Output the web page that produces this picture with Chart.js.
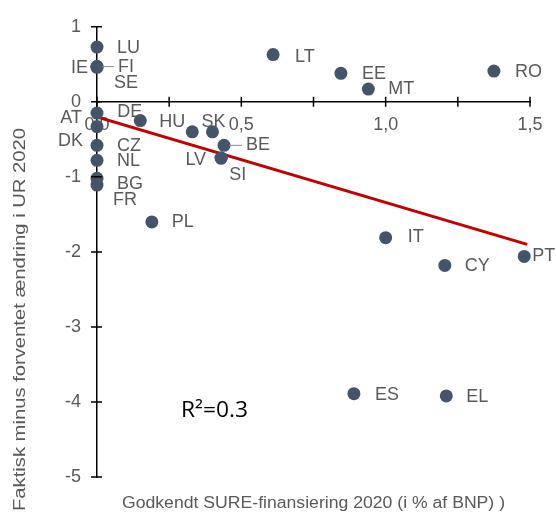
<!DOCTYPE html>
<html>
<head>
<meta charset="utf-8">
<script src="https://cdn.jsdelivr.net/npm/chart.js@4.4.1/dist/chart.umd.min.js"></script>
<style>
  html, body { margin: 0; padding: 0; background: #fff; }
  #wrap { width: 556px; height: 517px; position: relative; }
</style>
</head>
<body>
<div id="wrap"><canvas id="c"></canvas></div>
<script>
// ─── Data ────────────────────────────────────────────────────────
const countries = ['LU', 'IE', 'FI', 'SE', 'AT', 'DK', 'CZ', 'NL', 'BG', 'FR',
                   'DE', 'PL', 'HU', 'SK', 'BE', 'LV', 'SI', 'LT', 'EE', 'MT',
                   'RO', 'IT', 'CY', 'PT', 'ES', 'EL'];
// Godkendt SURE-finansiering 2020 (% af BNP)
const sure = [0, 0, 0, 0, 0, 0, 0, 0, 0, 0,
              0.15, 0.19, 0.33, 0.40, 0.44, 0.43, 0.43, 0.61, 0.845, 0.94,
              1.375, 1.0, 1.205, 1.48, 0.89, 1.21];
// Faktisk minus forventet ændring i UR 2020
const urGap = [0.73, 0.47, 0.47, 0.46, -0.15, -0.33, -0.58, -0.78, -1.02, -1.11,
               -0.25, -1.60, -0.40, -0.40, -0.58, -0.75, -0.75, 0.63, 0.38, 0.17,
               0.41, -1.81, -2.18, -2.06, -3.89, -3.92];
// trend line end points
const trendX = [0, 1.49];
const trendY = [-0.2, -1.9];

const xTicks = [0, 0.25, 0.5, 0.75, 1.0, 1.25, 1.5];
const yTicks = [1, 0, -1, -2, -3, -4, -5];

// label placement: [dx, dy, align, leader]
const labelPos = [
  [20, 1, 'left'], [-9, 1, 'right'], [21, 0, 'left', true], [17, 16, 'left'],
  [-15, 5, 'right'], [-14, 14, 'right'], [20, 1, 'left'], [20, 1, 'left'],
  [20, 6, 'left'], [16, 15, 'left'],
  [-23, -9, 'left'], [20, 0, 'left'], [-7, -10, 'right'], [-11, -10, 'left'],
  [22, 0, 'left', true], [-15, 2, 'right'], [8, 17, 'left'], [22, 2, 'left'],
  [21, 1, 'left'], [20, 0, 'left'], [21, 1, 'left'], [22, -1, 'left'],
  [20, 1, 'left'], [8, 0, 'left'], [21, 1, 'left'], [20, 1, 'left']
];

const GREY = '#595959';
const FONT = '"Liberation Sans", Arial, sans-serif';

// text stretched to a given length
function fitText(ctx, text, x, y, len) {
  const w = ctx.measureText(text).width;
  ctx.save();
  ctx.translate(x, y);
  ctx.scale(len / w, 1);
  ctx.fillText(text, 0, 0);
  ctx.restore();
}

// ─── Extra drawing: labels, crossing ticks, titles ──────────────
const decorate = {
  id: 'decorate',
  afterDraw(chart) {
    const ctx = chart.ctx;
    const xs = chart.scales.x, ys = chart.scales.y;
    const x0 = xs.getPixelForValue(0), y0 = ys.getPixelForValue(0);
    ctx.save();

    // crossing tick marks
    ctx.strokeStyle = '#000';
    ctx.lineWidth = 1.5;
    ctx.beginPath();
    yTicks.forEach(v => {
      const p = ys.getPixelForValue(v);
      ctx.moveTo(x0 - 6, p); ctx.lineTo(x0 + 5, p);
    });
    xTicks.forEach(v => {
      const p = xs.getPixelForValue(v);
      ctx.moveTo(p, y0 - 5); ctx.lineTo(p, y0 + 5);
    });
    ctx.stroke();

    // point labels
    ctx.font = '18px ' + FONT;
    ctx.fillStyle = GREY;
    ctx.textBaseline = 'middle';
    countries.forEach((c, i) => {
      const px = xs.getPixelForValue(sure[i]);
      const py = ys.getPixelForValue(urGap[i]);
      const [dx, dy, align, leader] = labelPos[i];
      ctx.textAlign = align;
      ctx.fillText(c, px + dx, py + dy);
      if (leader) {
        ctx.strokeStyle = '#8c8c8c';
        ctx.lineWidth = 1;
        ctx.beginPath();
        ctx.moveTo(px + 5, py); ctx.lineTo(px + dx - 4, py);
        ctx.stroke();
      }
    });

    // R²
    ctx.fillStyle = '#000';
    ctx.font = '21px "Open Sans", sans-serif';
    ctx.textAlign = 'left';
    fitText(ctx, 'R²=0.3', 181, 411, 67);

    // axis titles
    ctx.fillStyle = GREY;
    ctx.font = '16px ' + FONT;
    ctx.textAlign = 'left';
    fitText(ctx, 'Godkendt SURE-finansiering 2020 (i % af BNP) )', 122, 504, 383);

    ctx.translate(21, 0);
    ctx.rotate(-Math.PI / 2);
    fitText(ctx, 'Faktisk minus forventet ændring i UR 2020', -511, 0, 383);
    ctx.restore();
  }
};

// ─── Chart ───────────────────────────────────────────────────────
new Chart(document.getElementById('c'), {
  type: 'scatter',
  data: {
    datasets: [
      {
        label: 'Lande',
        data: sure.map((x, i) => ({ x, y: urGap[i] })),
        backgroundColor: '#44546a',
        borderWidth: 0,
        pointRadius: 6.5,
        pointHoverRadius: 6.5,
        clip: false
      },
      {
        type: 'line',
        label: 'Trend',
        data: trendX.map((x, i) => ({ x, y: trendY[i] })),
        borderColor: '#c00000',
        borderWidth: 3,
        pointRadius: 0,
        fill: false
      }
    ]
  },
  options: {
    responsive: true,
    maintainAspectRatio: false,
    animation: false,
    layout: { padding: { top: 16, right: 26, bottom: 40, left: 0 } },
    plugins: { legend: { display: false }, tooltip: { enabled: false } },
    scales: {
      x: {
        type: 'linear',
        position: { y: 0 },
        min: 0, max: 1.5,
        afterBuildTicks: s => { s.ticks = xTicks.map(v => ({ value: v })); },
        ticks: {
          color: GREY,
          font: { size: 18, family: FONT },
          padding: 12,
          maxRotation: 0,
          autoSkip: false,
          callback: v => (Math.abs(v * 2 - Math.round(v * 2)) < 1e-6 ? v.toFixed(1).replace('.', ',') : '')
        },
        grid: { drawOnChartArea: false, drawTicks: false },
        border: { color: '#000', width: 1.5 }
      },
      y: {
        type: 'linear',
        position: 'left',
        min: -5, max: 1,
        afterBuildTicks: s => { s.ticks = yTicks.map(v => ({ value: v })); },
        afterFit: s => { s.width = 97; },
        ticks: {
          color: GREY,
          font: { size: 18, family: FONT },
          padding: 16,
          callback: v => String(v)
        },
        grid: { drawOnChartArea: false, drawTicks: false },
        border: { color: '#000', width: 1.5 }
      }
    }
  },
  plugins: [decorate]
});
</script>
</body>
</html>
